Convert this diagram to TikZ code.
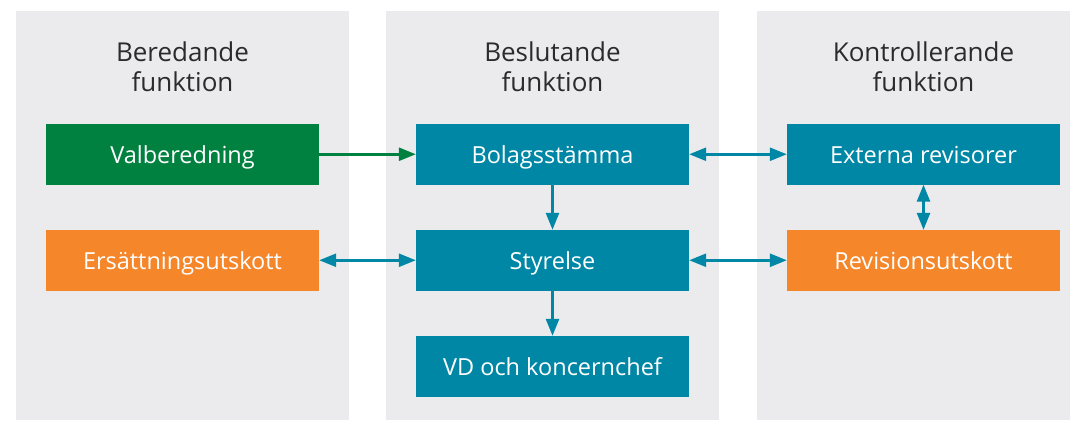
\documentclass[tikz,border=0pt]{standalone}
\usepackage{fontspec}
\setmainfont{Open Sans}
\usetikzlibrary{arrows.meta}
\definecolor{teal0}{HTML}{0087A5}
\definecolor{green0}{HTML}{00813F}
\definecolor{orange0}{HTML}{F5862A}
\definecolor{bg0}{HTML}{EBEBED}
\definecolor{txt0}{HTML}{2B2B2B}
\begin{document}
\begin{tikzpicture}[x=1pt,y=1pt,
  col/.style={fill=bg0,draw=none},
  box/.style={minimum width=273pt,minimum height=60.5pt,inner sep=0pt,text=white,
    text height=21.5pt,text depth=2.5pt,
    font=\fontsize{23.5}{28}\selectfont},
  tealbox/.style={box,fill=teal0},
  greenbox/.style={box,fill=green0},
  orangebox/.style={box,fill=orange0},
  head/.style={anchor=north,align=center,inner sep=0pt,text=txt0,
    font=\fontsize{26}{29.5}\selectfont},
  tip/.tip={Triangle[length=17pt,width=13pt]},
  conn/.style={line width=2.6pt,draw=teal0,-tip},
  dconn/.style={line width=2.6pt,draw=teal0,tip-tip},
  gconn/.style={line width=2.6pt,draw=green0,-tip}
]
\useasboundingbox (0,-420) rectangle (1070,0);
\fill[white] (0,-420) rectangle (1070,0);
\fill[col] (16,-11) rectangle (349,-420);
\fill[col] (386,-11) rectangle (719,-420);
\fill[col] (757,-11) rectangle (1070,-420);

\node[head] (h1) at (182.5,-42) {Beredande\\funktion};
\node[head] (h2) at (552.5,-42) {Beslutande\\funktion};
\node[head] (h3) at (923.5,-42) {Kontrollerande\\funktion};

\node[greenbox]  (valb) at (182.5,-154.25) {Valberedning};
\node[orangebox] (ers)  at (182.5,-260.25) {Ersättningsutskott};
\node[tealbox]   (bol)  at (552.5,-154.25) {Bolagsstämma};
\node[tealbox]   (sty)  at (552.5,-260.25) {Styrelse};
\node[tealbox]   (vd)   at (552.5,-366.25) {VD och koncernchef};
\node[tealbox]   (ext)  at (923.5,-154.25) {Externa revisorer};
\node[orangebox] (rev)  at (923.5,-260.25) {Revisionsutskott};

\draw[gconn] (valb.east) -- (bol.west);
\draw[dconn] (bol.east) -- (ext.west);
\draw[conn] (bol.south) -- (sty.north);
\draw[dconn] (ers.east) -- (sty.west);
\draw[dconn] (sty.east) -- (rev.west);
\draw[dconn] (ext.south) -- (rev.north);
\draw[conn] (sty.south) -- (vd.north);
\end{tikzpicture}
\end{document}
